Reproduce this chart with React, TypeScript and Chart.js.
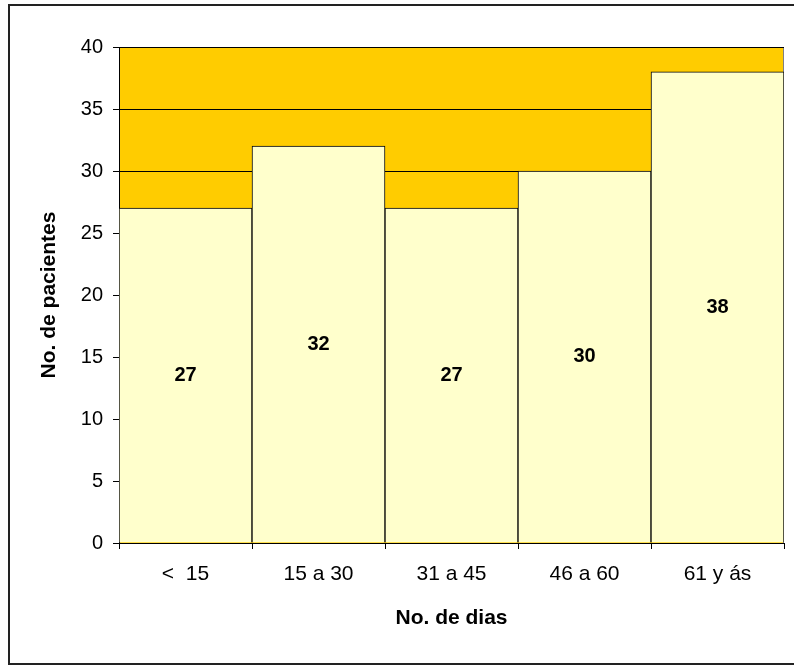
import React, { useEffect, useRef } from "react";
import { Chart, registerables } from "chart.js";

Chart.register(...registerables);

const categories = ["<  15", "15 a 30", "31 a 45", "46 a 60", "61 y ás"];
const patients = [27, 32, 27, 30, 38];
const yTicks = [0, 5, 10, 15, 20, 25, 30, 35, 40];
const xTitle = "No. de dias";
const yTitle = "No. de pacientes";

const FONT = "'Liberation Sans', Arial, sans-serif";

const frame = {
  id: "frame",
  beforeDraw(chart: any) {
    const { ctx, chartArea } = chart;
    ctx.save();
    ctx.strokeStyle = "#222";
    ctx.lineWidth = 2;
    ctx.strokeRect(9, 5, 800, 659);
    ctx.fillStyle = "#FFCC00";
    ctx.fillRect(chartArea.left, chartArea.top, chartArea.right - chartArea.left, chartArea.bottom - chartArea.top);
    ctx.strokeStyle = "#808080";
    ctx.lineWidth = 1;
    ctx.strokeRect(chartArea.left + 0.5, chartArea.top + 0.5, chartArea.right - chartArea.left - 1, chartArea.bottom - chartArea.top);
    ctx.restore();
  },
};

const labels = {
  id: "barLabels",
  afterDatasetsDraw(chart: any) {
    const { ctx } = chart;
    const meta = chart.getDatasetMeta(0);
    ctx.save();
    ctx.fillStyle = "#000";
    ctx.font = `bold 20px ${FONT}`;
    ctx.textAlign = "center";
    ctx.textBaseline = "middle";
    meta.data.forEach((bar: any, i: number) => {
      ctx.fillText(String(patients[i]), bar.x, (bar.y + bar.base) / 2);
    });
    ctx.restore();
  },
};

export default function App() {
  const ref = useRef<HTMLCanvasElement>(null);
  useEffect(() => {
    if (!ref.current) return;
    const chart = new Chart(ref.current, {
      type: "bar",
      data: {
        labels: categories,
        datasets: [
          {
            data: patients,
            backgroundColor: "#FFFFCC",
            borderColor: "#000",
            borderWidth: 1,
            categoryPercentage: 1,
            barPercentage: 1,
          },
        ],
      },
      options: {
        animation: false,
        responsive: false,
        devicePixelRatio: 1,
        layout: { padding: { left: 0, top: 47, right: 10, bottom: 0 } },
        plugins: { legend: { display: false }, tooltip: { enabled: false } },
        scales: {
          x: {
            grid: { offset: true, drawOnChartArea: false, drawTicks: true, tickLength: 6, color: "#000" },
            border: { color: "#000", width: 1 },
            ticks: { color: "#000", font: { family: FONT, size: 21 }, padding: 13 },
            title: { display: true, text: xTitle, color: "#000", font: { family: FONT, size: 21, weight: "bold" }, padding: { top: 0, bottom: 35 } },
            afterFit(scale: any) { scale.height = 123; },
          },
          y: {
            min: 0,
            max: 40,
            afterBuildTicks(scale: any) { scale.ticks = yTicks.map((v) => ({ value: v })); },
            grid: { color: "#000", tickLength: 6, drawTicks: true },
            border: { color: "#000", width: 1 },
            ticks: { color: "#000", font: { family: FONT, size: 20 }, padding: 10 },
            title: { display: true, text: yTitle, color: "#000", font: { family: FONT, size: 21, weight: "bold" }, padding: { top: 37, bottom: 0 } },
            afterFit(scale: any) { scale.width = 119; },
          },
        },
      },
      plugins: [frame, labels],
    } as any);
    return () => chart.destroy();
  }, []);
  return (
    <div style={{ position: "absolute", left: 0, top: 0, width: 794, height: 666 }}>
      <canvas ref={ref} width={794} height={666} style={{ display: "block" }} />
    </div>
  );
}
